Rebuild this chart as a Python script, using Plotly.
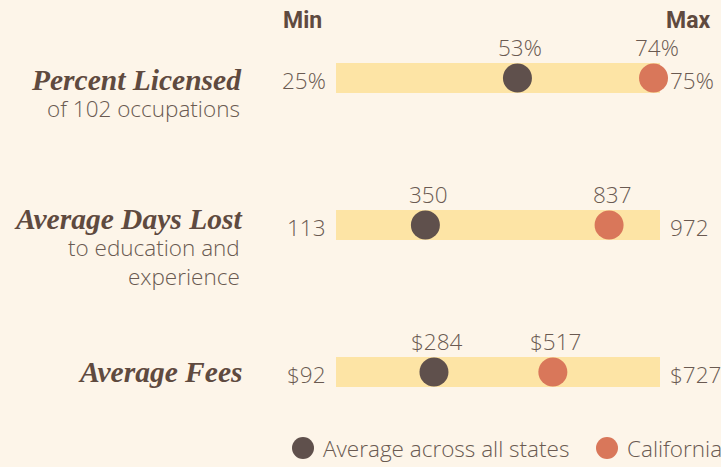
import plotly.graph_objects as go

# ---- data ----
metrics = ["Percent Licensed", "Average Days Lost", "Average Fees"]
subtitles = ["of 102 occupations", "to education and<br>experience", ""]
mins = [25, 113, 92]
maxs = [75, 972, 727]
avg_all = [53, 350, 284]
california = [74, 837, 517]
prefix = ["", "", "$"]
suffix = ["%", "", ""]

# ---- style ----
BG = "#fdf5e9"
BAR = "#fde4a5"
DARK = "#5f504c"
ORANGE = "#d9775a"
TXT = "#6a5a51"
TITLE = "#5f4a3f"
SANS = "Open Sans"
SERIF = "Liberation Serif"
LIGHT = 300

W, H = 721, 467
L, R = 336, 61
ROW_TOP_PX, ROW_STEP_PX = 78, 147

def norm(v, i):
    return (v - mins[i]) / (maxs[i] - mins[i])

def fmt(v, i):
    return f"{prefix[i]}{v}{suffix[i]}"

rows = list(range(len(metrics)))

fig = go.Figure()
fig.add_trace(go.Bar(
    y=rows, x=[1] * len(rows), base=[0] * len(rows), orientation="h",
    width=30 / ROW_STEP_PX, marker=dict(color=BAR, line=dict(width=0)),
    hoverinfo="skip", showlegend=False))
fig.add_trace(go.Scatter(
    y=rows, x=[norm(v, i) for i, v in enumerate(avg_all)], mode="markers",
    marker=dict(size=29, color=DARK, line=dict(width=0)), cliponaxis=False,
    name="Average across all states", showlegend=False))
fig.add_trace(go.Scatter(
    y=rows, x=[norm(v, i) for i, v in enumerate(california)], mode="markers",
    marker=dict(size=29, color=ORANGE, line=dict(width=0)), cliponaxis=False,
    name="California", showlegend=False))

sans = dict(family=SANS, size=22.5, color=TXT, weight=LIGHT)

ann = []
for i in rows:
    # value labels
    for v in (avg_all[i], california[i]):
        ann.append(dict(x=norm(v, i), y=i, xref="x", yref="y", text=fmt(v, i),
                        showarrow=False, yshift=31, xshift=3, font=sans))
    # min / max labels
    ann.append(dict(x=0, y=i, xref="x", yref="y", text=fmt(mins[i], i),
                    showarrow=False, xanchor="right", xshift=-8, yshift=-2, font=sans))
    ann.append(dict(x=1, y=i, xref="x", yref="y", text=fmt(maxs[i], i),
                    showarrow=False, xanchor="left", xshift=8, yshift=-2, font=sans))
    # titles
    title_shift = 0 if not subtitles[i] else (-2 if i == 0 else 6)
    ann.append(dict(x=0, y=i, xref="x", yref="y", text=f"<b><i>{metrics[i]}</i></b>",
                    showarrow=False, xanchor="right", xshift=-92, yshift=title_shift,
                    font=dict(family=SERIF, size=29.5, color=TITLE)))
    if subtitles[i]:
        ann.append(dict(x=0, y=i, xref="x", yref="y", text=subtitles[i],
                        showarrow=False, xanchor="right", yanchor="top", align="right",
                        xshift=-94, yshift=title_shift - 11, font=sans))

# headers
hdr = dict(family="Roboto", size=23, color=TITLE, weight=700)
ann.append(dict(x=0, y=1, xref="x", yref="paper", text="Min", showarrow=False,
                xshift=-34, yanchor="middle", yshift=-20, font=hdr))
ann.append(dict(x=1, y=1, xref="x", yref="paper", text="Max", showarrow=False,
                xshift=28, yanchor="middle", yshift=-20, font=hdr))

# legend (manual)
shapes = []
leg_y = 448
legend_items = [("Average across all states", DARK, 303), ("California", ORANGE, 607)]
for label, col, cx in legend_items:
    shapes.append(dict(type="circle", xref="paper", yref="paper",
                       x0=(cx - L - 11) / (W - L - R), x1=(cx - L + 11) / (W - L - R),
                       y0=(H - leg_y - 11) / H, y1=(H - leg_y + 11) / H,
                       fillcolor=col, line=dict(width=0), layer="above"))
    ann.append(dict(x=(cx - L + 18) / (W - L - R), y=(H - leg_y) / H, xref="paper", yref="paper",
                    text=label, showarrow=False, xanchor="left", yanchor="middle", font=sans))

y_top = -ROW_TOP_PX / ROW_STEP_PX
y_bot = (H - ROW_TOP_PX) / ROW_STEP_PX

fig.update_layout(
    width=W, height=H, paper_bgcolor=BG, plot_bgcolor=BG,
    margin=dict(l=L, r=R, t=0, b=0),
    xaxis=dict(range=[0, 1], visible=False, fixedrange=True),
    yaxis=dict(range=[y_bot, y_top], visible=False, fixedrange=True),
    annotations=ann, shapes=shapes, showlegend=False, bargap=0,
)

fig.write_html(
    "out.html",
    config={"displayModeBar": False},
    post_script="document.body.style.margin='0';document.body.style.overflow='hidden';"
                "document.body.style.background='#fdf5e9';",
)
